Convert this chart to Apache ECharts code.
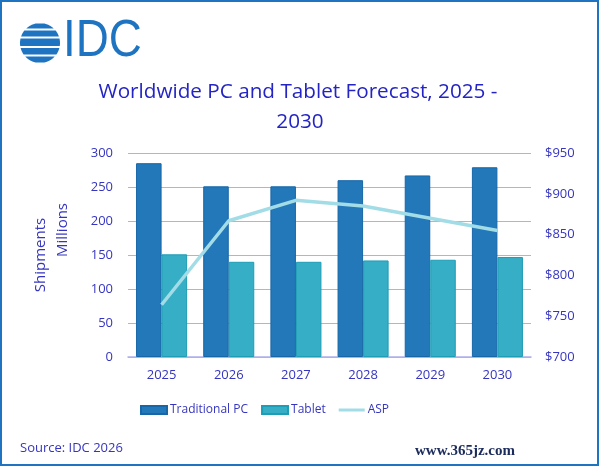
<!DOCTYPE html>
<html>
<head>
<meta charset="utf-8">
<script src="https://cdn.jsdelivr.net/npm/echarts@6/dist/echarts.min.js"></script>
<style>
html,body{margin:0;padding:0;background:#fff;}
#c{width:600px;height:467px;}
</style>
</head>
<body>
<div id="c"></div>
<script>
const years = ['2025','2026','2027','2028','2029','2030'];
const traditionalPC = [285, 251, 251, 260, 267, 279];
const tablet = [151, 140, 140, 142, 143, 147];
const asp = [764, 867, 892, 885, 870, 855];
const leftTicks = {min: 0, max: 300, interval: 50};
const rightTicks = {min: 700, max: 950, interval: 50};

const txt = '#3535c0';
const font = '"Open Sans", "Noto Sans", sans-serif';
const chart = echarts.init(document.getElementById('c'), null, {renderer: 'canvas'});

// logo globe bands (circle slices)
const cx = 40, cy = 43, r = 20;
const bands = [[-19.5,-14.5],[-12.5,-6.5],[-4.5,3],[5,11.5],[13.5,19.5]];
const globe = bands.map(b => {
  const pts = [];
  const n = 8;
  for (let i = 0; i <= n; i++) {
    const y = b[0] + (b[1]-b[0]) * i / n;
    pts.push([cx + Math.sqrt(Math.max(0, r*r - y*y)), cy + y]);
  }
  for (let i = n; i >= 0; i--) {
    const y = b[0] + (b[1]-b[0]) * i / n;
    pts.push([cx - Math.sqrt(Math.max(0, r*r - y*y)), cy + y]);
  }
  return {type:'polygon', shape:{points: pts}, style:{fill:'#1f74c2'}};
});

chart.setOption({
  animation: false,
  backgroundColor: '#fff',
  textStyle: {fontFamily: font},
  grid: {left: 128, right: 69, top: 153, bottom: 110, containLabel: false},
  legend: {
    bottom: 51, left: 140, padding: 0,
    itemWidth: 26, itemHeight: 8, itemGap: 13,
    textStyle: {color: txt, fontSize: 12, fontFamily: font, padding: [0,0,0,-2]},
    data: [
      {name: 'Traditional PC', icon: 'rect'},
      {name: 'Tablet', icon: 'rect'},
      {name: 'ASP', icon: 'path://M0,0h26v3h-26z'}
    ]
  },
  xAxis: {
    type: 'category', data: years,
    axisLine: {lineStyle: {color: '#b0b0ee', width: 1.5}},
    axisTick: {show: false},
    axisLabel: {color: txt, fontSize: 13, margin: 12, fontFamily: font}
  },
  yAxis: [
    {
      type: 'value', min: leftTicks.min, max: leftTicks.max, interval: leftTicks.interval,
      axisLabel: {color: txt, fontSize: 13, margin: 15, fontFamily: font},
      splitLine: {lineStyle: {color: '#aeaef0', width: 1}},
      axisLine: {show: false}, axisTick: {show: false}
    },
    {
      type: 'value', min: rightTicks.min, max: rightTicks.max, interval: rightTicks.interval,
      position: 'right',
      axisLabel: {color: txt, fontSize: 13, margin: 14, fontFamily: font, formatter: v => '$' + v},
      splitLine: {show: false}, axisLine: {show: false}, axisTick: {show: false}
    }
  ],
  series: [
    {
      name: 'Traditional PC', type: 'bar', data: traditionalPC, barGap: '0%', barCategoryGap: '24%',
      itemStyle: {color: '#2278b9', borderColor: '#1766a8', borderWidth: 1}
    },
    {
      name: 'Tablet', type: 'bar', data: tablet, barGap: '0%', barCategoryGap: '24%',
      itemStyle: {color: '#35aec6', borderColor: '#1e9db6', borderWidth: 1}
    },
    {
      name: 'ASP', type: 'line', yAxisIndex: 1, data: asp, showSymbol: false, symbol: 'none',
      lineStyle: {color: '#a2dce7', width: 3.5}, itemStyle: {color: '#a2dce7'}, z: 5
    }
  ],
  graphic: [
    {type:'rect', shape:{x:1, y:1, width:597, height:464}, style:{fill:'none', stroke:'#1f74c2', lineWidth:2}, silent:true},
    {type:'group', children: globe},
    {type:'text', x: 63, y: 42, scaleX: 0.88, style:{text:'IDC', fill:'#1f74c2', font:'normal 52px "Liberation Sans", Arial, sans-serif', textVerticalAlign:'middle'}},
    {type:'text', x: 298, y: 92, style:{text:'Worldwide PC and Tablet Forecast, 2025 -', fill:'#2424c4', font:'20.7px ' + font, textAlign:'center', textVerticalAlign:'middle'}},
    {type:'text', x: 300, y: 122, style:{text:'2030', fill:'#2424c4', font:'20.7px ' + font, textAlign:'center', textVerticalAlign:'middle'}},
    {type:'text', x: 41, y: 255, rotation: Math.PI/2, style:{text:'Shipments', fill:txt, font:'15px ' + font, textAlign:'center', textVerticalAlign:'middle'}},
    {type:'text', x: 63, y: 230, rotation: Math.PI/2, style:{text:'Millions', fill:txt, font:'15px ' + font, textAlign:'center', textVerticalAlign:'middle'}},
    {type:'text', x: 20, y: 448, style:{text:'Source: IDC 2026', fill:txt, font:'13px ' + font, textVerticalAlign:'middle'}},
    {type:'text', x: 415, y: 451, style:{text:'www.365jz.com', fill:'#1b2b5c', font:'bold 15px "Liberation Serif", "DejaVu Serif", serif', textVerticalAlign:'middle'}}
  ]
});
</script>
</body>
</html>
